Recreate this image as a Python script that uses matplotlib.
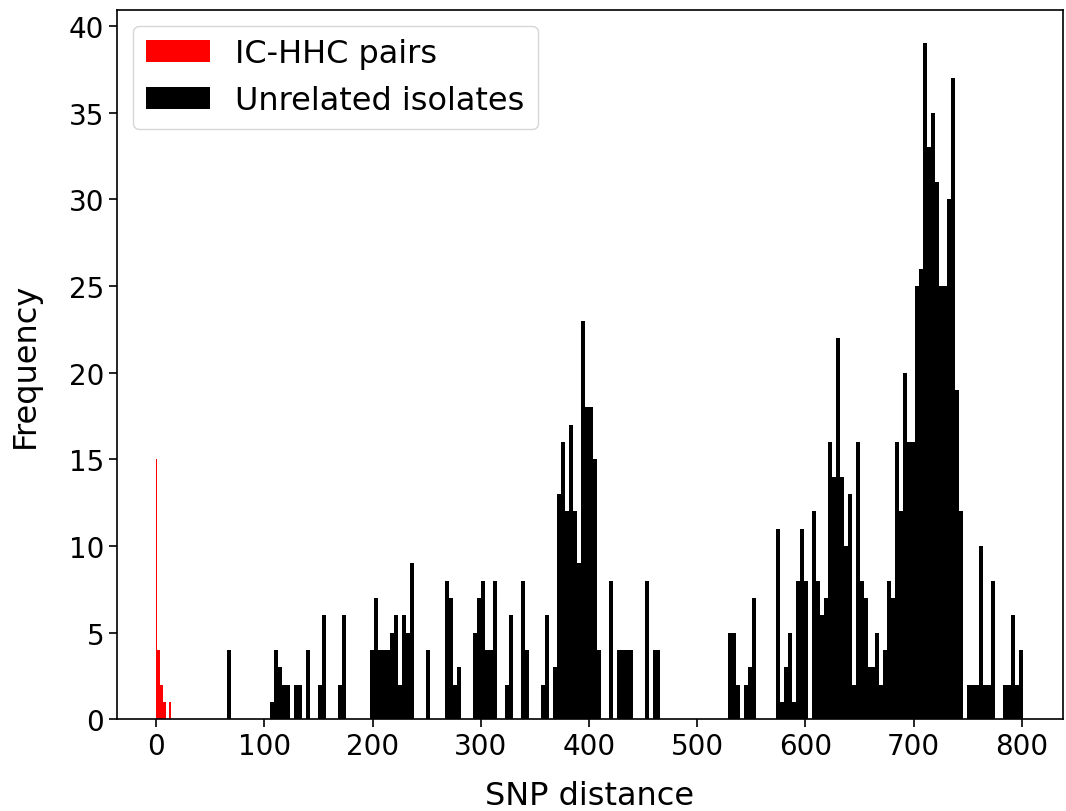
import matplotlib
matplotlib.use("Agg")
import matplotlib.pyplot as plt
import numpy as np

# IC-HHC pairs, counts per SNP distance bin
pair_edges = [0, 1, 3.6, 6.2, 8.8, 11.4, 14]
pair_counts = [15, 4, 2, 1, 0, 1]

# unrelated isolates, 200 equal bins between the smallest and largest distance
unrelated_min = 65
unrelated_max = 801
unrelated_counts = [
    4, 0, 0, 0, 0, 0, 0, 0, 0, 0,
    0, 1, 4, 3, 2, 2, 0, 2, 2, 0,
    4, 0, 0, 2, 6, 0, 0, 0, 2, 6,
    0, 0, 0, 0, 0, 0, 4, 7, 4, 4,
    4, 5, 6, 2, 6, 5, 9, 0, 0, 0,
    4, 0, 0, 0, 0, 8, 7, 2, 3, 0,
    0, 0, 5, 7, 8, 4, 4, 8, 0, 0,
    2, 6, 0, 0, 8, 4, 0, 0, 0, 2,
    6, 0, 3, 13, 16, 12, 17, 12, 9, 23,
    18, 18, 15, 4, 0, 0, 8, 0, 4, 4,
    4, 4, 0, 0, 0, 8, 0, 4, 4, 0,
    0, 0, 0, 0, 0, 0, 0, 0, 0, 0,
    0, 0, 0, 0, 0, 0, 5, 5, 2, 0,
    2, 3, 7, 0, 0, 0, 0, 0, 11, 1,
    3, 5, 1, 8, 11, 8, 0, 12, 8, 6,
    7, 16, 14, 22, 14, 10, 13, 2, 16, 8,
    7, 3, 3, 5, 2, 4, 8, 7, 16, 12,
    20, 16, 16, 25, 26, 39, 33, 35, 31, 25,
    25, 30, 37, 19, 12, 0, 2, 2, 2, 10,
    2, 2, 8, 0, 0, 2, 2, 6, 2, 4,
]

TICK_FONT = 20
LABEL_FONT = 23


def plot():
    fig = plt.figure(figsize=(10.66, 8.12), dpi=100)
    ax = fig.add_axes([0.11, 0.113, 0.887, 0.874])

    # rebuild the bin edges of the unrelated histogram
    edges = np.linspace(unrelated_min, unrelated_max, len(unrelated_counts) + 1)

    ax.hist(pair_edges[:-1], bins=pair_edges, weights=pair_counts,
            color="red", label="IC-HHC pairs")
    ax.hist(edges[:-1], bins=edges, weights=unrelated_counts,
            color="black", label="Unrelated isolates")

    ax.set_xlim(-36, 838)
    ax.set_xticks(range(0, 801, 100))
    ax.set_yticks(range(0, 41, 5))
    ax.tick_params(labelsize=TICK_FONT, length=6, width=1.2)
    for s in ax.spines.values():
        s.set_linewidth(1.2)

    ax.set_xlabel("SNP distance", fontsize=LABEL_FONT, labelpad=14)
    ax.set_ylabel("Frequency", fontsize=LABEL_FONT, labelpad=20)
    ax.legend(loc="upper left", fontsize=LABEL_FONT)

    fig.savefig("out.png", dpi=100)


if __name__ == "__main__":
    plot()
